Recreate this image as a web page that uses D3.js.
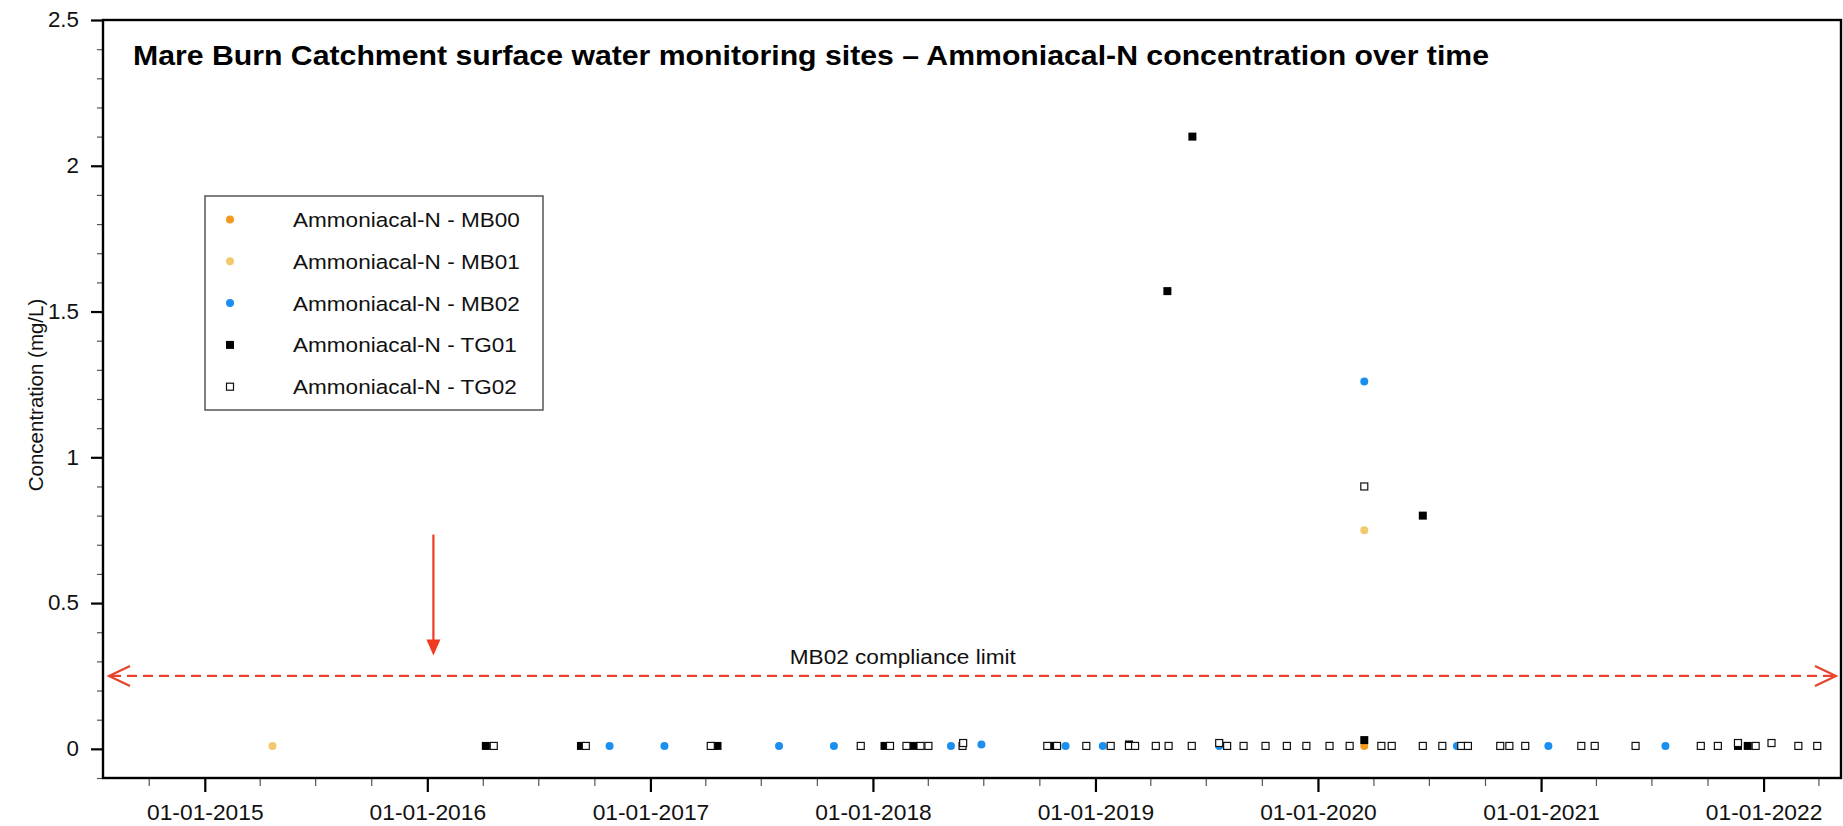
<!DOCTYPE html>
<html><head><meta charset="utf-8">
<script src="https://cdn.jsdelivr.net/npm/d3@7"></script>
<style>
html,body{margin:0;padding:0;background:#fff;}
svg{display:block;font-family:"Liberation Sans",Arial,Helvetica,sans-serif;}
</style></head><body>
<svg id="chart" width="1843" height="826"></svg>
<script>
// ---------------- DATA ----------------
const seriesNames = ["Ammoniacal-N - MB00","Ammoniacal-N - MB01","Ammoniacal-N - MB02","Ammoniacal-N - TG01","Ammoniacal-N - TG02"];

const mb00Dates  = ["2020-03-17"];
const mb00Values = [0.01];

const mb01Dates  = ["2015-04-22","2020-03-17"];
const mb01Values = [0.01, 0.75];

const mb02Dates  = ["2016-10-26","2017-01-24","2017-07-31","2017-10-29","2018-05-09","2018-06-28","2018-11-13","2019-01-13","2019-07-23","2020-03-17","2020-08-16","2021-01-13","2021-07-24"];
const mb02Values = [0.01,0.01,0.01,0.01,0.01,0.015,0.01,0.01,0.01,1.26,0.01,0.01,0.01];

const tg01Dates  = ["2016-04-06","2016-09-09","2017-04-21","2018-01-20","2018-03-09","2018-10-25","2019-02-25","2019-04-29","2019-06-09","2020-03-17","2020-06-21","2021-11-20","2021-12-06"];
const tg01Values = [0.01,0.01,0.01,0.01,0.01,0.01,0.015,1.57,2.10,0.03,0.80,0.01,0.01];

const tg02Dates  = ["2016-04-19","2016-09-17","2017-04-10","2017-12-12","2018-01-29","2018-02-25","2018-03-20","2018-04-02","2018-05-28","2018-05-29","2018-10-14","2018-10-30","2018-12-17","2019-01-26","2019-02-25","2019-03-07","2019-04-10","2019-05-01","2019-06-08","2019-07-23","2019-08-05","2019-09-01","2019-10-07","2019-11-11","2019-12-13","2020-01-20","2020-02-22","2020-03-17","2020-04-14","2020-05-01","2020-06-21","2020-07-23","2020-08-23","2020-09-03","2020-10-26","2020-11-10","2020-12-06","2021-03-08","2021-03-30","2021-06-05","2021-09-20","2021-10-18","2021-11-20","2021-12-19","2022-01-14","2022-02-27","2022-03-30"];
const tg02Values = [0.01,0.01,0.01,0.01,0.01,0.01,0.01,0.01,0.01,0.02,0.01,0.01,0.01,0.01,0.01,0.01,0.01,0.01,0.01,0.02,0.01,0.01,0.01,0.01,0.01,0.01,0.01,0.90,0.01,0.01,0.01,0.01,0.01,0.01,0.01,0.01,0.01,0.01,0.01,0.01,0.01,0.01,0.02,0.01,0.02,0.01,0.01];

const xDomainDates = ["2014-07-18","2022-05-08"];
const yDomain = [-0.1, 2.5];
const yMajorTicks = [0, 0.5, 1, 1.5, 2, 2.5];
const yTickLabels = ["0","0.5","1","1.5","2","2.5"];
const xTickFormat = "%d-%m-%Y";

const titleText = "Mare Burn Catchment surface water monitoring sites \u2013 Ammoniacal-N concentration over time";
const yAxisTitle = "Concentration (mg/L)";
const complianceLimit = 0.25;
const complianceLabel = "MB02 compliance limit";
const complianceLabelDate = "2018-02-19";
const arrowDate = "2016-01-11";
const arrowValues = [0.735, 0.32];

// ---------------- STYLES ----------------
const colors = {MB00:"#f39a1e", MB01:"#f3c96e", MB02:"#1b8ff0", TG01:"#000000", TG02:"#ffffff"};
const red = "#e8432c";

// ---------------- CHART ----------------
const parse = d3.timeParse("%Y-%m-%d");
const svg = d3.select("#chart");
const L = 103, R = 1841, T = 20, B = 778;

const x = d3.scaleTime().domain(xDomainDates.map(parse)).range([L, R]);
const y = d3.scaleLinear().domain(yDomain).range([B, T]);

function stretch(sel, sx){
  sel.each(function(){
    const w = this.getComputedTextLength();
    this.setAttribute("textLength", w*sx);
    this.setAttribute("lengthAdjust","spacingAndGlyphs");
  });
}

// X minor ticks (quarters)
const xMinor = d3.axisBottom(x).ticks(d3.timeMonth.every(3)).tickSize(8).tickFormat("");
const gxm = svg.append("g").attr("transform",`translate(0,${B})`).call(xMinor);
gxm.select(".domain").remove();
gxm.selectAll("line").attr("stroke","#555").attr("stroke-width",1.2);

// X major ticks
const xMajor = d3.axisBottom(x).ticks(d3.timeYear.every(1)).tickSize(14).tickPadding(14).tickFormat(d3.timeFormat(xTickFormat));
const gx = svg.append("g").attr("transform",`translate(0,${B})`).call(xMajor);
gx.select(".domain").remove();
gx.selectAll("line").attr("stroke","#000").attr("stroke-width",2.2);
gx.selectAll("text").attr("font-size",21.5).attr("fill","#111").attr("font-family",'"Liberation Sans",Arial,sans-serif')
  .attr("dy",null).attr("y",42);
stretch(gx.selectAll("text"), 1.06);

// Y minor ticks
const yMinorVals = d3.range(-0.1, 2.5001, 0.1).map(v=>+v.toFixed(2)).filter(v=>!yMajorTicks.includes(v));
const gym = svg.append("g").attr("transform",`translate(${L},0)`)
  .call(d3.axisLeft(y).tickValues(yMinorVals).tickSize(6).tickFormat(""));
gym.select(".domain").remove();
gym.selectAll("line").attr("stroke","#555").attr("stroke-width",1.2);

// Y major ticks
const gy = svg.append("g").attr("transform",`translate(${L},0)`)
  .call(d3.axisLeft(y).tickValues(yMajorTicks).tickSize(12).tickPadding(12).tickFormat((d,i)=>yTickLabels[i]));
gy.select(".domain").remove();
gy.selectAll("line").attr("stroke","#000").attr("stroke-width",2.2);
gy.selectAll("text").attr("font-size",21.5).attr("fill","#111").attr("font-family",'"Liberation Sans",Arial,sans-serif');
stretch(gy.selectAll("text"), 1.04);

// Frame
svg.append("rect").attr("x",L).attr("y",T).attr("width",R-L).attr("height",B-T)
  .attr("fill","none").attr("stroke","#000").attr("stroke-width",2.4);

// Y axis title
svg.append("text").attr("transform",`translate(43,${(T+B)/2 - 4}) rotate(-90)`)
  .attr("text-anchor","middle").attr("font-size",20.5).attr("fill","#111").text(yAxisTitle);

// Title
svg.append("text").attr("x",133).attr("y",65).attr("font-size",28).attr("font-weight","bold")
  .attr("fill","#000").attr("textLength",1356).attr("lengthAdjust","spacingAndGlyphs").text(titleText);

// Compliance line
const yc = y(complianceLimit);
const xl = L + 6, xr = R - 5;
svg.append("line").attr("x1",xl+2).attr("x2",xr-2).attr("y1",yc).attr("y2",yc)
  .attr("stroke",red).attr("stroke-width",2.2).attr("stroke-dasharray","10,6");
svg.append("path").attr("d",`M${xl+21},${yc-10} L${xl},${yc} L${xl+21},${yc+10}`)
  .attr("fill","none").attr("stroke",red).attr("stroke-width",2.2);
svg.append("path").attr("d",`M${xr-21},${yc-10} L${xr},${yc} L${xr-21},${yc+10}`)
  .attr("fill","none").attr("stroke",red).attr("stroke-width",2.2);
const ct = svg.append("text").attr("x",x(parse(complianceLabelDate))).attr("y",yc-12)
  .attr("text-anchor","middle").attr("font-size",20).attr("fill","#111").text(complianceLabel);
stretch(ct, 1.13);

// Vertical arrow
const ax = x(parse(arrowDate));
const a0 = y(arrowValues[0]), a1 = y(arrowValues[1]);
svg.append("line").attr("x1",ax).attr("x2",ax).attr("y1",a0).attr("y2",a1-14)
  .attr("stroke","#f03a22").attr("stroke-width",2.2);
svg.append("path").attr("d",`M${ax-7},${a1-16} L${ax+7},${a1-16} L${ax},${a1} Z`).attr("fill","#f03a22");

// Data
function zip(ds, vs){ return ds.map((d,i)=>({date:parse(d), value:vs[i]})); }
const series = [
  {key:"MB00", shape:"circle", data:zip(mb00Dates, mb00Values)},
  {key:"MB01", shape:"circle", data:zip(mb01Dates, mb01Values)},
  {key:"MB02", shape:"circle", data:zip(mb02Dates, mb02Values)},
  {key:"TG01", shape:"filled", data:zip(tg01Dates, tg01Values)},
  {key:"TG02", shape:"open",   data:zip(tg02Dates, tg02Values)}
];

function drawMarker(g, s, cx, cy){
  if (s.shape === "circle"){
    g.append("circle").attr("cx",cx).attr("cy",cy).attr("r",4).attr("fill",colors[s.key]);
  } else if (s.shape === "filled"){
    g.append("rect").attr("x",cx-4).attr("y",cy-4).attr("width",8).attr("height",8).attr("fill","#000");
  } else {
    g.append("rect").attr("x",cx-3.5).attr("y",cy-3.5).attr("width",7).attr("height",7)
      .attr("fill","#fff").attr("stroke","#111").attr("stroke-width",1.2);
  }
}

const gp = svg.append("g");
series.forEach(s=>{
  const g = gp.append("g");
  s.data.forEach(d=>drawMarker(g, s, x(d.date), y(d.value)));
});

// Legend
const lg = svg.append("g");
lg.append("rect").attr("x",205).attr("y",196).attr("width",338).attr("height",214)
  .attr("fill","#fff").attr("stroke","#555").attr("stroke-width",1.5);
series.forEach((s,i)=>{
  const ly = 219.5 + i*41.8;
  drawMarker(lg, s, 230, ly);
  const t = lg.append("text").attr("x",293).attr("y",ly+7.5).attr("font-size",20.5).attr("fill","#111").text(seriesNames[i]);
  stretch(t, 1.1);
});
</script>
</body></html>
